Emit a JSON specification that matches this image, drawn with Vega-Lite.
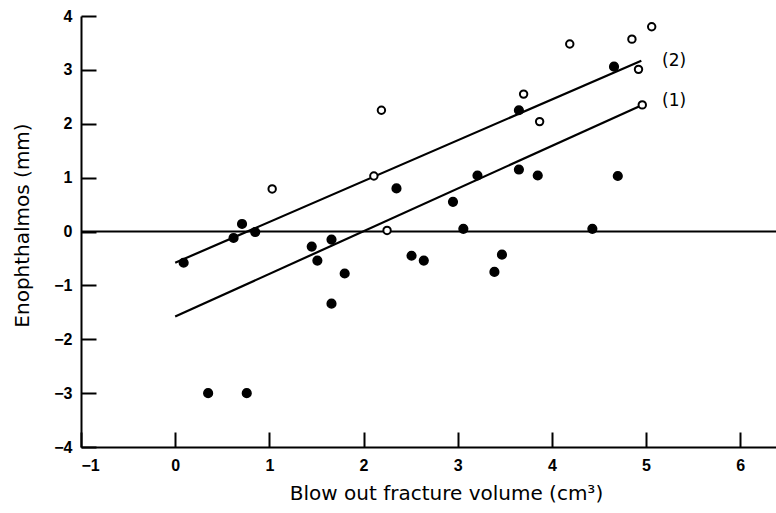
{
  "$schema": "https://vega.github.io/schema/vega-lite/v6.json",
  "width": 695,
  "height": 431,
  "autosize": {"type": "none"},
  "padding": {"left": 81, "top": 16, "right": 0, "bottom": 66},
  "background": "white",
  "config": {
    "view": {"stroke": null},
    "axis": {
      "grid": false,
      "domainColor": "black",
      "domainWidth": 2,
      "tickColor": "black",
      "tickWidth": 2,
      "tickSize": -15,
      "labelColor": "black",
      "labelFont": "Liberation Sans",
      "labelFontWeight": "bold",
      "labelFontSize": 16,
      "titleFont": "DejaVu Sans",
      "titleFontSize": 20,
      "titleFontWeight": "normal",
      "titleColor": "black"
    }
  },
  "datasets": {
    "points": [
      {"volume": 0.09, "enophthalmos": -0.58, "group": "filled"},
      {"volume": 0.62, "enophthalmos": -0.12, "group": "filled"},
      {"volume": 0.71, "enophthalmos": 0.14, "group": "filled"},
      {"volume": 0.85, "enophthalmos": -0.01, "group": "filled"},
      {"volume": 0.35, "enophthalmos": -3.0, "group": "filled"},
      {"volume": 0.76, "enophthalmos": -3.0, "group": "filled"},
      {"volume": 1.45, "enophthalmos": -0.28, "group": "filled"},
      {"volume": 1.51, "enophthalmos": -0.54, "group": "filled"},
      {"volume": 1.66, "enophthalmos": -0.15, "group": "filled"},
      {"volume": 1.66, "enophthalmos": -1.34, "group": "filled"},
      {"volume": 1.80, "enophthalmos": -0.78, "group": "filled"},
      {"volume": 2.35, "enophthalmos": 0.8, "group": "filled"},
      {"volume": 2.51, "enophthalmos": -0.45, "group": "filled"},
      {"volume": 2.64, "enophthalmos": -0.54, "group": "filled"},
      {"volume": 2.95, "enophthalmos": 0.55, "group": "filled"},
      {"volume": 3.06, "enophthalmos": 0.05, "group": "filled"},
      {"volume": 3.21, "enophthalmos": 1.04, "group": "filled"},
      {"volume": 3.39, "enophthalmos": -0.75, "group": "filled"},
      {"volume": 3.47, "enophthalmos": -0.43, "group": "filled"},
      {"volume": 3.65, "enophthalmos": 2.25, "group": "filled"},
      {"volume": 3.65, "enophthalmos": 1.15, "group": "filled"},
      {"volume": 3.85, "enophthalmos": 1.04, "group": "filled"},
      {"volume": 4.43, "enophthalmos": 0.05, "group": "filled"},
      {"volume": 4.66, "enophthalmos": 3.06, "group": "filled"},
      {"volume": 4.70, "enophthalmos": 1.03, "group": "filled"},
      {"volume": 1.03, "enophthalmos": 0.79, "group": "open"},
      {"volume": 2.11, "enophthalmos": 1.03, "group": "open"},
      {"volume": 2.19, "enophthalmos": 2.25, "group": "open"},
      {"volume": 2.25, "enophthalmos": 0.02, "group": "open"},
      {"volume": 3.70, "enophthalmos": 2.55, "group": "open"},
      {"volume": 3.87, "enophthalmos": 2.04, "group": "open"},
      {"volume": 4.19, "enophthalmos": 3.48, "group": "open"},
      {"volume": 4.85, "enophthalmos": 3.57, "group": "open"},
      {"volume": 4.92, "enophthalmos": 3.01, "group": "open"},
      {"volume": 4.96, "enophthalmos": 2.35, "group": "open"},
      {"volume": 5.06, "enophthalmos": 3.80, "group": "open"}
    ],
    "lines": [
      {"volume": 0.0, "enophthalmos": -1.58, "line": "1"},
      {"volume": 4.96, "enophthalmos": 2.35, "line": "1"},
      {"volume": 0.0, "enophthalmos": -0.58, "line": "2"},
      {"volume": 4.95, "enophthalmos": 3.17, "line": "2"}
    ],
    "labels": [
      {"volume": 5.17, "enophthalmos": 3.17, "label": "(2)"},
      {"volume": 5.17, "enophthalmos": 2.43, "label": "(1)"}
    ],
    "zero": [{"enophthalmos": 0}]
  },
  "encoding": {
    "x": {
      "field": "volume",
      "type": "quantitative",
      "scale": {"domain": [-1, 6.38], "nice": false, "zero": false},
      "axis": {
        "title": "Blow out fracture volume (cm³)",
        "values": [-1, 0, 1, 2, 3, 4, 5, 6],
        "labelPadding": 25,
        "titleX": 365,
        "titleY": 52,
        "titleBaseline": "alphabetic"
      }
    },
    "y": {
      "field": "enophthalmos",
      "type": "quantitative",
      "scale": {"domain": [-4, 4], "nice": false},
      "axis": {
        "title": "Enophthalmos (mm)",
        "values": [-4, -3, -2, -1, 0, 1, 2, 3, 4],
        "labelPadding": 24,
        "titleX": -49,
        "titleY": 209
      }
    }
  },
  "layer": [
    {
      "data": {"name": "zero"},
      "mark": {"type": "rule", "color": "black", "strokeWidth": 2},
      "encoding": {"x": null}
    },
    {
      "data": {"name": "lines"},
      "mark": {"type": "line", "color": "black", "strokeWidth": 2.2},
      "encoding": {"detail": {"field": "line"}}
    },
    {
      "data": {"name": "points"},
      "transform": [{"filter": "datum.group === 'filled'"}],
      "mark": {"type": "point", "shape": "circle", "filled": true, "fill": "black", "stroke": "black", "strokeWidth": 1.5, "opacity": 1, "size": 75},
      "encoding": {}
    },
    {
      "data": {"name": "points"},
      "transform": [{"filter": "datum.group === 'open'"}],
      "mark": {"type": "point", "shape": "circle", "filled": true, "fill": "white", "stroke": "black", "strokeWidth": 2, "opacity": 1, "size": 55},
      "encoding": {}
    },
    {
      "data": {"name": "labels"},
      "mark": {"type": "text", "align": "left", "baseline": "middle", "font": "DejaVu Sans", "fontSize": 17, "color": "black"},
      "encoding": {"text": {"field": "label"}}
    }
  ]
}
